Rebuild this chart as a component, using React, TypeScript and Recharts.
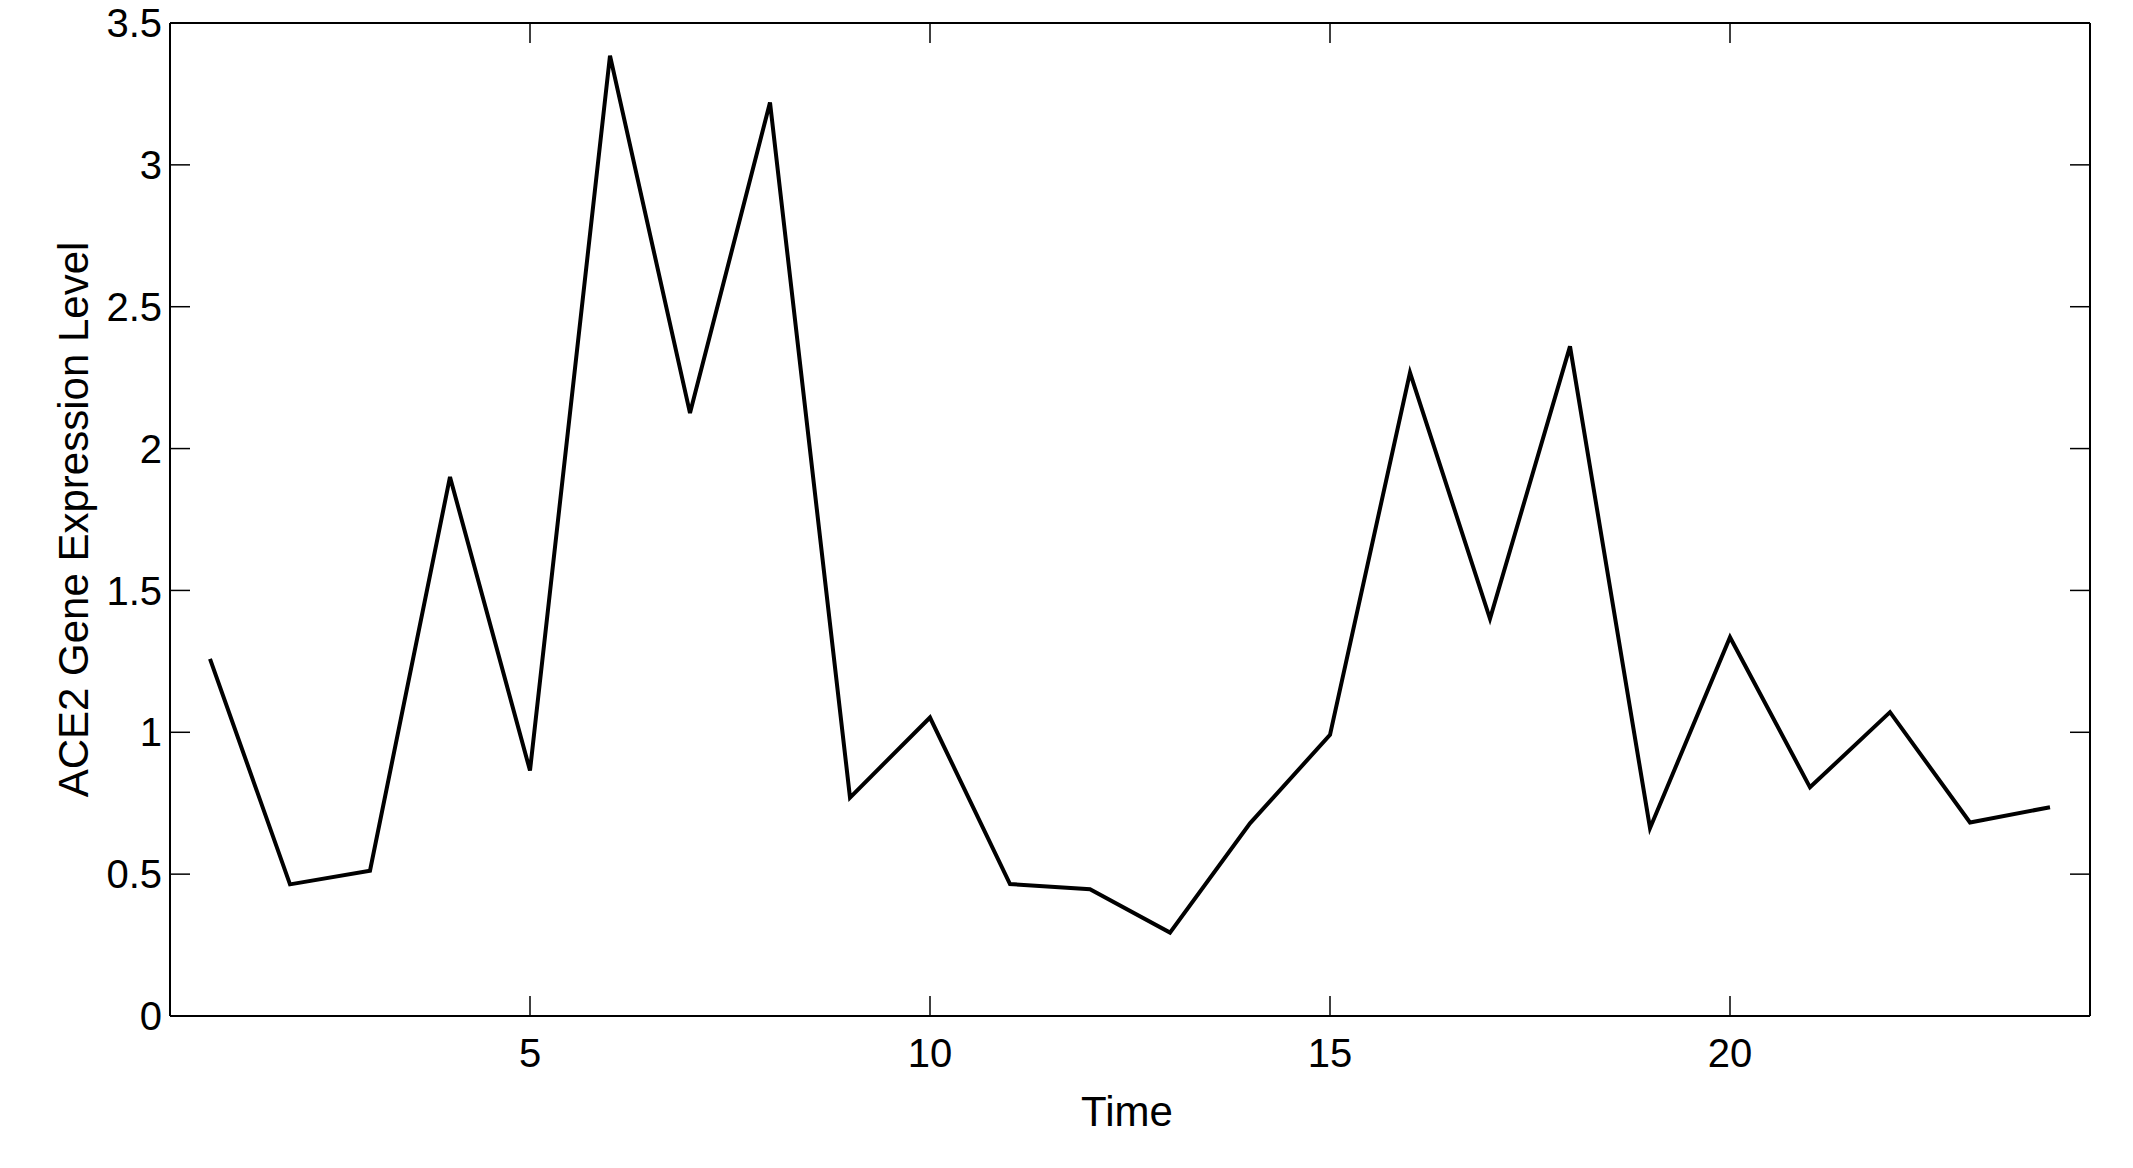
import { Label, Line, LineChart, XAxis, YAxis } from "recharts";

const times = [1, 2, 3, 4, 5, 6, 7, 8, 9, 10, 11, 12, 13, 14, 15, 16, 17, 18, 19, 20, 21, 22, 23, 24];
const expression = [
  1.259, 0.464, 0.512, 1.9, 0.865, 3.385, 2.125, 3.22, 0.77, 1.052, 0.465, 0.447,
  0.294, 0.679, 0.991, 2.268, 1.4, 2.36, 0.662, 1.335, 0.806, 1.071, 0.682, 0.736,
];
const xTicks = [5, 10, 15, 20];
const yTicks = [0, 0.5, 1, 1.5, 2, 2.5, 3, 3.5];

const data = times.map((t, i) => ({ t, v: expression[i] }));

const FONT = '"Liberation Sans", Arial, Helvetica, sans-serif';
const tickStyle = { fill: "#000", fontSize: 40, fontFamily: FONT };
const noLabel = () => "";

function XTitle(props: any) {
  const vb = props.viewBox || { x: 170, y: 1016, width: 1920, height: 152 };
  return (
    <text
      x={vb.x + vb.width / 2 - 3}
      y={vb.y + 110}
      textAnchor="middle"
      fontSize={42}
      fontFamily={FONT}
      fill="#000"
    >
      Time
    </text>
  );
}

function YTitle(props: any) {
  const vb = props.viewBox || { x: 0, y: 23, width: 170, height: 993 };
  const cx = vb.x + 88;
  const cy = vb.y + vb.height / 2;
  return (
    <text
      x={cx}
      y={cy}
      transform={`rotate(-90, ${cx}, ${cy})`}
      textAnchor="middle"
      fontSize={42}
      fontFamily={FONT}
      fill="#000"
    >
      ACE2 Gene Expression Level
    </text>
  );
}

export default function App() {
  return (
    <div style={{ width: 2133, height: 1168, margin: -8, background: "#fff" }}>
      <LineChart
        width={2133}
        height={1168}
        data={data}
        margin={{ top: 0, right: 0, bottom: 0, left: 0 }}
        style={{ fontFamily: FONT }}
      >
        <XAxis
          dataKey="t"
          type="number"
          domain={[0.5, 24.5]}
          ticks={xTicks}
          interval={0}
          allowDataOverflow
          height={152}
          tickSize={-20}
          tickMargin={43}
          tick={tickStyle}
          axisLine={{ stroke: "#000", strokeWidth: 2 }}
          tickLine={{ stroke: "#000", strokeWidth: 1.5 }}
        >
          <Label content={XTitle} />
        </XAxis>
        <XAxis
          xAxisId="top"
          orientation="top"
          dataKey="t"
          type="number"
          domain={[0.5, 24.5]}
          ticks={xTicks}
          interval={0}
          allowDataOverflow
          height={23}
          tickSize={-20}
          tickFormatter={noLabel}
          axisLine={{ stroke: "#000", strokeWidth: 2 }}
          tickLine={{ stroke: "#000", strokeWidth: 1.5 }}
        />
        <YAxis
          type="number"
          domain={[0, 3.5]}
          ticks={yTicks}
          interval={0}
          allowDataOverflow
          width={170}
          tickSize={-20}
          tickMargin={28}
          tick={tickStyle}
          axisLine={{ stroke: "#000", strokeWidth: 2 }}
          tickLine={{ stroke: "#000", strokeWidth: 1.5 }}
        >
          <Label content={YTitle} />
        </YAxis>
        <YAxis
          yAxisId="right"
          orientation="right"
          type="number"
          domain={[0, 3.5]}
          ticks={yTicks}
          interval={0}
          allowDataOverflow
          width={43}
          tickSize={-20}
          tickFormatter={noLabel}
          axisLine={{ stroke: "#000", strokeWidth: 2 }}
          tickLine={{ stroke: "#000", strokeWidth: 1.5 }}
        />
        <Line
          type="linear"
          dataKey="v"
          stroke="#000"
          strokeWidth={4}
          dot={false}
          activeDot={false}
          isAnimationActive={false}
        />
      </LineChart>
    </div>
  );
}
